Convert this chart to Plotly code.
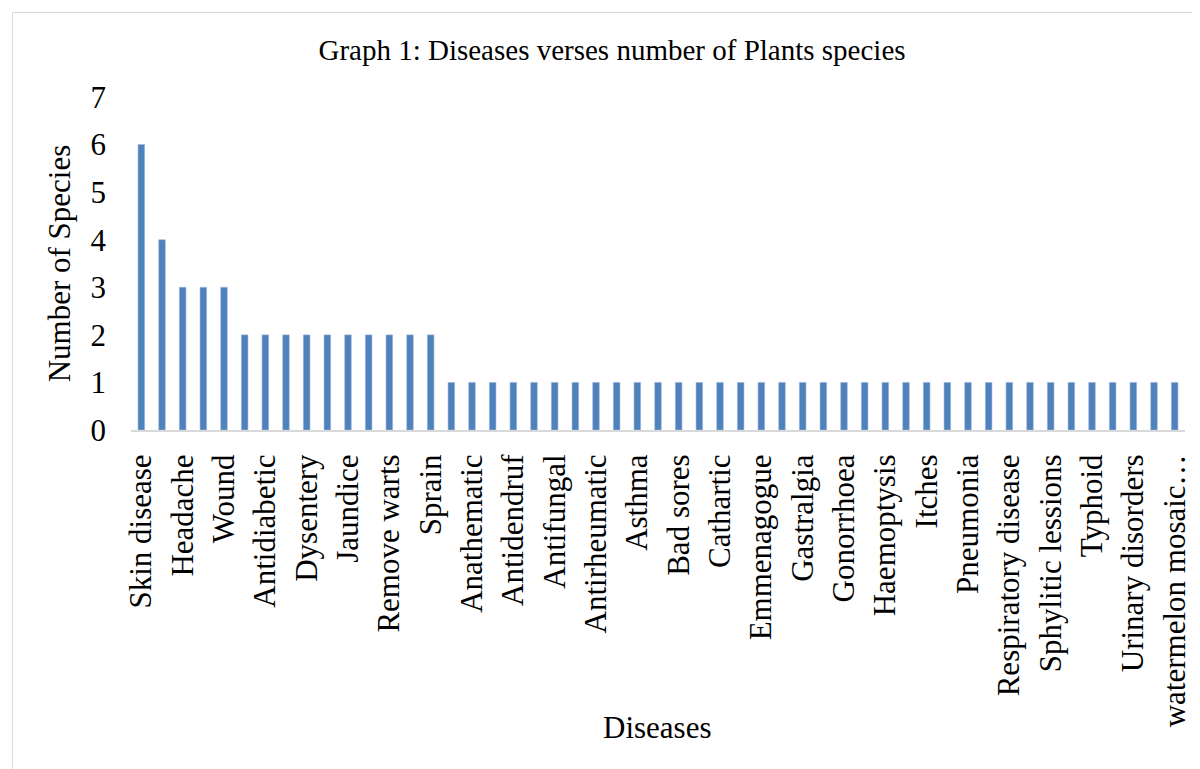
import plotly.graph_objects as go

# ---- data ----
diseases = [
    "Skin disease", "Cough", "Headache", "Stomachache", "Wound",
    "Anthelmintic", "Antidiabetic", "Diarrhoea", "Dysentery", "Fever",
    "Jaundice", "Malaria", "Remove warts", "Snake bite", "Sprain",
    "Abscess", "Anathematic", "Antidote", "Antidendruf", "Antiemetic",
    "Antifungal", "Antimalarial", "Antirheumatic", "Antiseptic", "Asthma",
    "Backache", "Bad sores", "Burns", "Cathartic", "Diuretic",
    "Emmenagogue", "Eye infection", "Gastralgia", "Gastritis", "Gonorrhoea",
    "Gout", "Haemoptysis", "Hypertension", "Itches", "Piles",
    "Pneumonia", "Rashes", "Respiratory disease", "Rheumatism", "Sphylitic lessions",
    "Toothache", "Typhoid", "Ulcer", "Urinary disorders", "Vomiting",
    "watermelon mosaic virus",
]
species_counts = [
    6, 4, 3, 3, 3,
    2, 2, 2, 2, 2, 2, 2, 2, 2, 2,
    1, 1, 1, 1, 1, 1, 1, 1, 1, 1,
    1, 1, 1, 1, 1, 1, 1, 1, 1, 1,
    1, 1, 1, 1, 1, 1, 1, 1, 1, 1,
    1, 1, 1, 1, 1, 1,
]
shown_ticks = diseases[::2]
shown_tick_text = [d if len(d) < 20 else "watermelon mosaic…" for d in shown_ticks]
y_ticks = [0, 1, 2, 3, 4, 5, 6, 7]

FONT = "Liberation Serif, Times New Roman, serif"

# page body has an 8px margin; compensate so the figure lands where the reference is
OFF = 8
W, H = 1200 - OFF, 769 - OFF
L, R, T = 131 - OFF, 15, 97 - OFF
B = H - (430 - OFF)
pw, ph = W - L - R, H - T - B

fig = go.Figure()
fig.add_trace(go.Bar(
    x=diseases,
    y=species_counts,
    width=0.32,
    marker=dict(color="#4f81bd", line=dict(color="#9db8da", width=0.6)),
    showlegend=False,
))

fig.update_layout(
    width=W, height=H,
    margin=dict(l=L, r=R, t=T, b=B),
    paper_bgcolor="white", plot_bgcolor="white",
    font=dict(family=FONT, color="black"),
    title=dict(
        text="Graph 1: Diseases verses number of Plants species",
        font=dict(family=FONT, size=29, color="black"),
        x=(612 - OFF) / W, xref="container", xanchor="center",
        y=1 - (50 - OFF) / H, yref="container", yanchor="middle",
    ),
    shapes=[dict(
        type="rect", xref="paper", yref="paper",
        x0=(12.5 - 131) / pw, x1=(1205 - 131) / pw,
        y0=(430 - 775) / ph, y1=(430 - 12.5) / ph,
        line=dict(color="#d9d9d9", width=1), fillcolor="rgba(0,0,0,0)",
        layer="below",
    )],
    annotations=[dict(
        text="Diseases", xref="paper", yref="paper",
        x=(657 - 131) / pw, y=(430 - 727) / ph,
        xanchor="center", yanchor="middle", showarrow=False,
        font=dict(family=FONT, size=31, color="black"),
    )],
)

fig.update_xaxes(
    type="category",
    categoryorder="array", categoryarray=diseases,
    tickmode="array", tickvals=shown_ticks, ticktext=shown_tick_text,
    tickangle=-90,
    tickfont=dict(family=FONT, size=31, color="black"),
    ticks="", showgrid=False, zeroline=False,
    showline=True, linecolor="#d9d9d9", linewidth=2,
    ticklabelstandoff=10,
    automargin=False,
)
fig.update_yaxes(
    range=[0, 7],
    tickmode="array", tickvals=y_ticks,
    tickfont=dict(family=FONT, size=31, color="black"),
    ticks="", showgrid=False, zeroline=False, showline=False,
    ticklabelstandoff=24,
    title=dict(text="Number of Species", font=dict(family=FONT, size=31, color="black"), standoff=10),
    automargin=False,
)

fig.write_html("out.html")
